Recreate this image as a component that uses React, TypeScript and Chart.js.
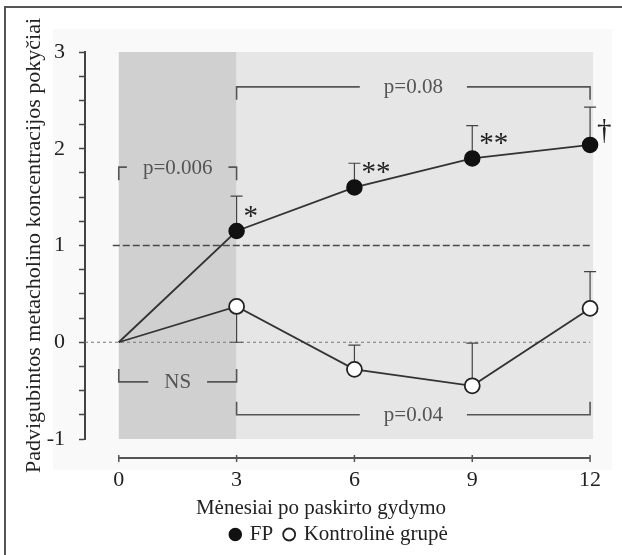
import React, { useEffect, useRef } from 'react';
import { Chart, registerables } from 'chart.js';

Chart.register(...registerables);

// ---------- data ----------
const months = [0, 3, 6, 9, 12];
const xTickValues = [0, 3, 6, 9, 12];
const fpValues = [0, 1.15, 1.6, 1.9, 2.04];
const fpErrorEnd = [null, 1.51, 1.85, 2.24, 2.43];
const fpSignificance = ['', '*', '**', '**', '†'];
const controlValues = [0, 0.37, -0.28, -0.45, 0.35];
const controlErrorEnd = [null, 0.0, -0.03, -0.01, 0.73];
const seriesNames = ['FP', 'Kontrolinė grupė'];
const xTitle = 'Mėnesiai po paskirto gydymo';
const yTitle = 'Padvigubintos metacholino koncentracijos pokyčiai';
const referenceLevels = [1, 0];
const bracketLabels = ['p=0.006', 'p=0.08', 'NS', 'p=0.04'];
const bracketFrom = [0, 3, 0, 3];
const bracketTo = [3, 12, 3, 12];
const bracketLevel = [1.81, 2.64, -0.41, -0.75];
const bracketOpensDown = [true, true, false, false];
const shadeFrom = [0, 3];
const shadeTo = [3, 12];

const FONT = '"Liberation Serif", "Times New Roman", serif';

const decorPlugin = {
  id: 'decor',
  beforeDraw(chart: any) {
    const { ctx } = chart;
    ctx.save();
    ctx.fillStyle = '#f9f9f9';
    ctx.fillRect(53, 29, 559, 441);
    ctx.strokeStyle = '#555';
    ctx.lineWidth = 2;
    ctx.beginPath();
    ctx.moveTo(5, 555);
    ctx.lineTo(5, 7);
    ctx.lineTo(622, 7);
    ctx.stroke();
    ctx.restore();
  },
  beforeDatasetsDraw(chart: any) {
    const { ctx, chartArea: a, scales } = chart;
    const x = scales.x;
    const y = scales.y;
    ctx.save();
    // shaded periods
    const shadeColors = ['#d0d0d0', '#e6e6e6'];
    for (let i = 0; i < shadeFrom.length; i++) {
      const x0 = x.getPixelForValue(shadeFrom[i]);
      const x1 = x.getPixelForValue(shadeTo[i]) + (i === shadeFrom.length - 1 ? 3 : 0);
      ctx.fillStyle = shadeColors[i];
      ctx.fillRect(x0, a.top, x1 - x0, a.bottom - a.top);
    }
    // reference lines
    referenceLevels.forEach((lv, i) => {
      const py = y.getPixelForValue(lv);
      ctx.beginPath();
      if (i === 0) {
        ctx.setLineDash([7, 3]);
        ctx.strokeStyle = '#4a4a4a';
        ctx.lineWidth = 1.3;
        ctx.moveTo(x.getPixelForValue(0) - 6, py);
      } else {
        ctx.setLineDash([3, 3]);
        ctx.strokeStyle = '#777';
        ctx.lineWidth = 1;
        ctx.moveTo(a.left, py);
      }
      ctx.lineTo(x.getPixelForValue(12), py);
      ctx.stroke();
    });
    ctx.setLineDash([]);
    // brackets
    ctx.font = '21px ' + FONT;
    ctx.textAlign = 'center';
    ctx.textBaseline = 'middle';
    bracketLabels.forEach((lab, i) => {
      const x0 = x.getPixelForValue(bracketFrom[i]);
      const x1 = x.getPixelForValue(bracketTo[i]);
      const py = y.getPixelForValue(bracketLevel[i]);
      const tick = bracketOpensDown[i] ? 13 : -13;
      const cx = (x0 + x1) / 2;
      const w = ctx.measureText(lab).width;
      const gap = w / 2 + (x1 - x0 > 200 ? 24 : 16);
      ctx.strokeStyle = '#555';
      ctx.lineWidth = 1.6;
      ctx.beginPath();
      ctx.moveTo(x0, py + tick);
      ctx.lineTo(x0, py);
      ctx.lineTo(cx - gap, py);
      ctx.moveTo(cx + gap, py);
      ctx.lineTo(x1, py);
      ctx.lineTo(x1, py + tick);
      ctx.stroke();
      ctx.fillStyle = '#555';
      ctx.fillText(lab, cx, py + 1);
    });
    // error bars
    const drawErr = (vals: number[], ends: (number | null)[]) => {
      ctx.strokeStyle = '#444';
      ctx.lineWidth = 1.2;
      vals.forEach((v, i) => {
        const e = ends[i];
        if (e === null || e === undefined) return;
        const px = x.getPixelForValue(months[i]);
        const p0 = y.getPixelForValue(v);
        const p1 = y.getPixelForValue(e);
        ctx.beginPath();
        ctx.moveTo(px, p0);
        ctx.lineTo(px, p1);
        ctx.moveTo(px - 6, p1);
        ctx.lineTo(px + 6, p1);
        ctx.stroke();
      });
    };
    drawErr(fpValues, fpErrorEnd);
    drawErr(controlValues, controlErrorEnd);
    // x axis line
    const axY = a.bottom + 19;
    ctx.strokeStyle = '#555';
    ctx.lineWidth = 2;
    ctx.beginPath();
    ctx.moveTo(x.getPixelForValue(xTickValues[0]), axY);
    ctx.lineTo(x.getPixelForValue(xTickValues[xTickValues.length - 1]), axY);
    ctx.stroke();
    ctx.lineWidth = 1.5;
    xTickValues.forEach((t) => {
      const px = x.getPixelForValue(t);
      ctx.beginPath();
      ctx.moveTo(px, axY - 3);
      ctx.lineTo(px, axY + 4);
      ctx.stroke();
    });
    ctx.restore();
  },
  afterDatasetsDraw(chart: any) {
    const { ctx, scales } = chart;
    const x = scales.x;
    const y = scales.y;
    ctx.save();
    ctx.fillStyle = '#222';
    ctx.textAlign = 'left';
    ctx.textBaseline = 'alphabetic';
    ctx.font = '29px ' + FONT;
    fpSignificance.forEach((s, i) => {
      if (!s) return;
      const px = x.getPixelForValue(months[i]);
      const py = y.getPixelForValue(fpValues[i]);
      ctx.fillText(s, px + 7, py - 6);
    });
    ctx.font = '21px ' + FONT;
    ctx.textAlign = 'center';
    ctx.textBaseline = 'middle';
    ctx.fillText(xTitle, 321, 508);
    ctx.restore();
  },
};

export default function App() {
  const ref = useRef<HTMLCanvasElement | null>(null);
  useEffect(() => {
    document.body.style.margin = '0';
    document.body.style.overflow = 'hidden';
    const canvas = ref.current;
    if (!canvas) return;
    const chart = new Chart(canvas, {
      type: 'line',
      data: {
        datasets: [
          {
            label: seriesNames[0],
            data: months.map((m, i) => ({ x: m, y: fpValues[i] })),
            borderColor: '#333',
            borderWidth: 1.8,
            backgroundColor: '#111',
            pointBackgroundColor: '#111',
            pointBorderColor: '#111',
            pointBorderWidth: 1.5,
            pointRadius: months.map((m) => (m === 0 ? 0 : 7.5)),
            pointStyle: 'circle',
            tension: 0,
            clip: false,
          },
          {
            label: seriesNames[1],
            data: months.map((m, i) => ({ x: m, y: controlValues[i] })),
            borderColor: '#333',
            borderWidth: 1.8,
            backgroundColor: '#fff',
            pointBackgroundColor: '#fff',
            pointBorderColor: '#222',
            pointBorderWidth: 1.8,
            pointRadius: months.map((m) => (m === 0 ? 0 : 7.5)),
            pointStyle: 'circle',
            tension: 0,
            clip: false,
          },
        ],
      },
      options: {
        responsive: false,
        animation: false,
        devicePixelRatio: 1,
        layout: { padding: { top: 52, left: 21, right: 28, bottom: 0 } },
        font: { family: FONT },
        plugins: {
          legend: {
            position: 'bottom',
            fullSize: false,
            labels: {
              usePointStyle: true,
              boxWidth: 8,
              boxHeight: 8.5,
              padding: 12,
              color: '#222',
              font: { family: FONT, size: 21 },
            },
          },
          tooltip: { enabled: false },
        },
        scales: {
          x: {
            type: 'linear',
            min: -0.86,
            max: 12.1,
            grid: { display: false, drawTicks: false },
            border: { display: false },
            afterFit: (s: any) => {
              s.height = 73;
              s.paddingLeft = 0;
              s.paddingRight = 0;
            },
            afterBuildTicks: (s: any) => {
              s.ticks = xTickValues.map((v) => ({ value: v }));
            },
            ticks: {
              autoSkip: false,
              maxRotation: 0,
              padding: 28,
              color: '#222',
              font: { family: FONT, size: 22 },
            },
          },
          y: {
            type: 'linear',
            min: -1,
            max: 3,
            afterFit: (s: any) => {
              s.width = 64;
              s.paddingTop = 0;
              s.paddingBottom = 0;
            },
            grid: {
              drawOnChartArea: false,
              drawTicks: true,
              tickLength: 6,
              color: '#444',
              tickWidth: 1.5,
            },
            border: { display: true, color: '#444', width: 2 },
            ticks: {
              stepSize: 0.25,
              autoSkip: false,
              padding: 14,
              color: '#222',
              font: { family: FONT, size: 22 },
              callback: (v: any) => (Number.isInteger(v) ? String(v) : ''),
            },
            title: {
              display: true,
              text: yTitle,
              color: '#222',
              font: { family: FONT, size: 22 },
              padding: { top: 0, bottom: 1 },
            },
          },
        },
      },
      plugins: [decorPlugin],
    });
    return () => chart.destroy();
  }, []);
  return (
    <div style={{ width: 622, height: 555 }}>
      <canvas ref={ref} width={622} height={555} style={{ display: 'block' }} />
    </div>
  );
}
